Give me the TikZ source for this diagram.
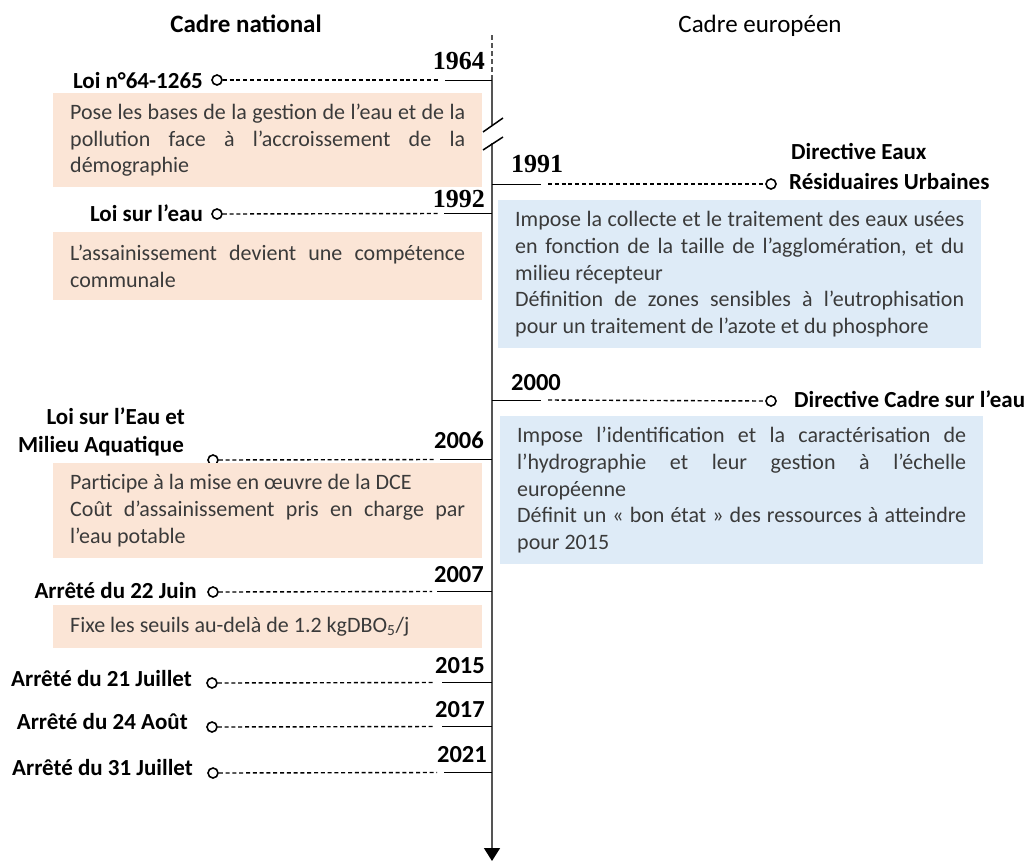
\documentclass[tikz,border=0pt]{standalone}
\usepackage{fontspec}
\setmainfont{Carlito}
\newfontfamily\yearserif{Liberation Serif}
\usetikzlibrary{arrows.meta}
\definecolor{pinkbox}{HTML}{FBE5D6}
\definecolor{bluebox}{HTML}{DEEBF7}
\definecolor{bodytxt}{HTML}{3A3A3A}
\definecolor{axisgray}{HTML}{555555}
\begin{document}
\begin{tikzpicture}[x=1pt,y=-1pt,
  lbl/.style={font=\fontsize{23}{28}\selectfont\bfseries, inner sep=0pt},
  yr/.style={font=\fontsize{24.5}{28}\selectfont\bfseries, inner sep=0pt, anchor=base east},
  yrs/.style={font=\fontsize{26}{28}\selectfont\bfseries\yearserif, inner sep=0pt},
  hdr/.style={font=\fontsize{25}{30}\selectfont, inner sep=0pt, anchor=base},
  dot/.style={circle, draw=black, line width=1.6pt, minimum size=10pt, inner sep=0pt, fill=white},
  dline/.style={draw=black, line width=1.4pt, dash pattern=on 4pt off 2.8pt},
  tick/.style={draw=black, line width=1pt},
  txtbox/.style={anchor=north west, inner xsep=17pt, inner ysep=0pt, align=justify,
    font=\fontsize{22}{26.6}\selectfont, text=bodytxt},
  pbox/.style={txtbox, fill=pinkbox, text width=395pt},
  bbox/.style={txtbox, fill=bluebox, text width=449pt},
  axisline/.style={draw=axisgray, line width=1.5pt},
]
\useasboundingbox (0,0) rectangle (1031,863);
\hyphenpenalty=10000 \tolerance=9999 \emergencystretch=20pt

% headers
\node[hdr, font=\fontsize{25}{30}\selectfont\bfseries] (hnat) at (246,32) {Cadre national};
\node[hdr] (heur) at (760,32) {Cadre européen};

% axis
\coordinate (atop) at (492,35);
\coordinate (a64) at (492,80);
\coordinate (abrk1) at (492,125);
\coordinate (abrk2) at (492,143);
\coordinate (aend) at (492,861);
\draw[axisline, line width=1.2pt, dash pattern=on 5pt off 3pt] (atop) -- (a64);
\draw[axisline] (a64) -- (abrk1);
\draw[axisline, -{Triangle[width=16pt,length=13pt,color=black]}] (abrk2) -- (aend);
\coordinate (s1a) at (483,132); \coordinate (s1b) at (503,118);
\coordinate (s2a) at (483,150); \coordinate (s2b) at (503,137);
\draw[black, line width=1.5pt] (s1a) -- (s1b);
\draw[black, line width=1.5pt] (s2a) -- (s2b);

% ---------- 1964
\node[yrs, anchor=base east] (y64) at (485,69) {1964};
\node[lbl, anchor=base east] (l64) at (203,88) {Loi n°64-1265};
\node[dot] (c64) at (217,80) {};
\coordinate (e64) at (440,80); \coordinate (s64) at (445,80);
\draw[dline] (c64.east) -- (e64);
\draw[tick] (s64) -- (a64);
\node[pbox, minimum height=94pt] (b64) at (53,93) {Pose les bases de la gestion de l’eau et de la\linebreak pollution face à l’accroissement de la\linebreak démographie};

% ---------- 1991 (EU)
\coordinate (a91) at (492,184);
\node[yrs, anchor=base west] (y91) at (511,172) {1991};
\coordinate (s91) at (541,184); \coordinate (e91) at (548,184);
\node[dot] (c91) at (771,184) {};
\draw[tick] (a91) -- (s91);
\draw[dline] (e91) -- (c91.west);
\node[lbl, anchor=base west] (l91a) at (791,159) {Directive Eaux};
\node[lbl, anchor=base west] (l91b) at (789,189) {Résiduaires Urbaines};
\node[bbox, minimum height=148pt] (b91) at (498,200) {Impose la collecte et le traitement des eaux usées\linebreak en fonction de la taille de l’agglomération, et du\linebreak milieu récepteur\\Définition de zones sensibles à l’eutrophisation\linebreak pour un traitement de l’azote et du phosphore};

% ---------- 1992
\coordinate (a92) at (492,213);
\node[yrs, anchor=base east] (y92) at (485,207) {1992};
\node[lbl, anchor=base east] (l92) at (203,221) {Loi sur l’eau};
\node[dot] (c92) at (217,214) {};
\coordinate (e92) at (440,213.5); \coordinate (s92) at (444,213);
\draw[dline] (c92.east) -- (e92);
\draw[tick] (s92) -- (a92);
\node[pbox, minimum height=68pt] (b92) at (53,232) {L’assainissement devient une compétence\linebreak communale};

% ---------- 2000 (EU)
\coordinate (a00) at (492,400);
\node[yr, anchor=base west] (y00) at (511,390) {2000};
\coordinate (s00) at (541,400); \coordinate (e00) at (548,400);
\node[dot] (c00) at (771,401) {};
\draw[tick] (a00) -- (s00);
\draw[dline] (e00) -- (c00.west);
\node[lbl, anchor=base west] (l00) at (794,407) {Directive Cadre sur l’eau};
\node[bbox, minimum height=148pt] (b00) at (500,416) {Impose l’identification et la caractérisation de\linebreak l’hydrographie et leur gestion à l’échelle\linebreak européenne\\Définit un «~bon état~» des ressources à atteindre\linebreak pour 2015};

% ---------- 2006
\coordinate (a06) at (492,459);
\node[yr] (y06) at (484,448) {2006};
\node[lbl, anchor=base east] (l06a) at (185,424) {Loi sur l’Eau et};
\node[lbl, anchor=base east] (l06b) at (184,452) {Milieu Aquatique};
\node[dot] (c06) at (213,460) {};
\coordinate (e06) at (435,459.5); \coordinate (s06) at (440,459);
\draw[dline] (c06.east) -- (e06);
\draw[tick] (s06) -- (a06);
\node[pbox, minimum height=95pt] (b06) at (53,463) {Participe à la mise en œuvre de la DCE\\Coût d’assainissement pris en charge par\linebreak l’eau potable};

% ---------- 2007
\coordinate (a07) at (492,591);
\node[yr] (y07) at (484,582) {2007};
\node[lbl, anchor=base east] (l07) at (197,598) {Arrêté du 22 Juin};
\node[dot] (c07) at (213,592) {};
\coordinate (e07) at (432,591.5); \coordinate (s07) at (437,591);
\draw[dline] (c07.east) -- (e07);
\draw[tick] (s07) -- (a07);
\node[pbox, minimum height=43pt] (b07) at (53,605) {Fixe les seuils au-delà de 1.2 kgDBO\textsubscript{5}/j};

% ---------- 2015
\coordinate (a15) at (492,682);
\node[yr] (y15) at (485,673) {2015};
\node[lbl, anchor=base east] (l15) at (192,686) {Arrêté du 21 Juillet};
\node[dot] (c15) at (212,683) {};
\coordinate (e15) at (435,682.5); \coordinate (s15) at (442,682);
\draw[dline] (c15.east) -- (e15);
\draw[tick] (s15) -- (a15);

% ---------- 2017
\coordinate (a17) at (492,726);
\node[yr] (y17) at (485,717) {2017};
\node[lbl, anchor=base east] (l17) at (188,729) {Arrêté du 24 Août};
\node[dot] (c17) at (212,727) {};
\coordinate (e17) at (435,726.5); \coordinate (s17) at (442,726);
\draw[dline] (c17.east) -- (e17);
\draw[tick] (s17) -- (a17);

% ---------- 2021
\coordinate (a21) at (492,772);
\node[yr] (y21) at (487,762) {2021};
\node[lbl, anchor=base east] (l21) at (193,775) {Arrêté du 31 Juillet};
\node[dot] (c21) at (213,773) {};
\coordinate (e21) at (437,772.5); \coordinate (s21) at (444,772);
\draw[dline] (c21.east) -- (e21);
\draw[tick] (s21) -- (a21);
\end{tikzpicture}
\end{document}
